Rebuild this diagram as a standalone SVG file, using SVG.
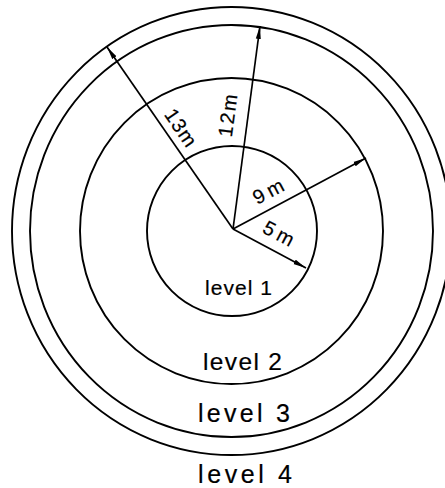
<svg xmlns="http://www.w3.org/2000/svg" width="445" height="488" viewBox="0 0 445 488">
<style>
.ring{fill:none;stroke:#000;stroke-width:1.9}
.dim{stroke:#000;stroke-width:1.7;fill:none;marker-end:url(#ah)}
.lab{font-family:"Liberation Sans",Arial,sans-serif;fill:#000;stroke:#000;stroke-width:0.2;text-anchor:middle}
</style>
<defs>
<marker id="ah" markerUnits="userSpaceOnUse" markerWidth="14" markerHeight="8" refX="13" refY="3" orient="auto">
<path d="M0,0.5 L13,3 L0,5.5 z" fill="#000"/>
</marker>
</defs>
<rect width="445" height="488" fill="#fff"/>
<g id="level4">
<ellipse class="ring" cx="231.5" cy="231" rx="219.5" ry="224"/>
<text class="lab" x="245" y="483" font-size="25" textLength="94" lengthAdjust="spacing">level 4</text>
</g>
<g id="level3">
<ellipse class="ring" cx="231.5" cy="231" rx="201.5" ry="206"/>
<text class="lab" x="244" y="422" font-size="25" textLength="92" lengthAdjust="spacing">level 3</text>
</g>
<g id="level2">
<ellipse class="ring" cx="231.5" cy="231" rx="151.5" ry="153"/>
<text class="lab" x="242.5" y="370" font-size="24.5" textLength="79" lengthAdjust="spacing">level 2</text>
</g>
<g id="level1">
<ellipse class="ring" cx="232" cy="231" rx="85" ry="85"/>
<text class="lab" x="238.5" y="295" font-size="21" textLength="67" lengthAdjust="spacing">level 1</text>
</g>
<g id="connectors">
<line class="dim" x1="233" y1="229" x2="107" y2="47"/>
<line class="dim" x1="233" y1="229" x2="260" y2="26"/>
<line class="dim" x1="233" y1="229" x2="366" y2="158"/>
<line class="dim" x1="233" y1="229" x2="306" y2="268"/>
<text class="lab" font-size="20" textLength="41" lengthAdjust="spacing" transform="translate(175,131.5) rotate(55.5)">13m</text>
<text class="lab" font-size="20" textLength="43" lengthAdjust="spacing" transform="translate(234.5,116.5) rotate(-82.4)">12m</text>
<text class="lab" font-size="20" textLength="32" lengthAdjust="spacing" transform="translate(271.5,197.5) rotate(-28)">9m</text>
<text class="lab" font-size="20" textLength="32" lengthAdjust="spacing" transform="translate(275.5,239.5) rotate(28)">5m</text>
</g>
</svg>
